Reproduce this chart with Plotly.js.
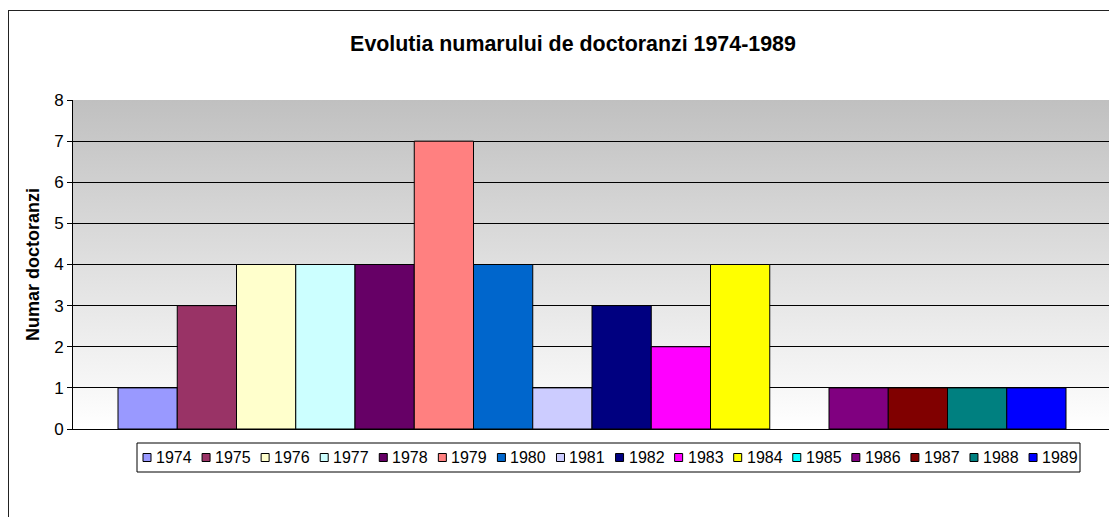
<!DOCTYPE html>
<html>
<head>
<meta charset="utf-8">
<script src="https://cdn.plot.ly/plotly-3.0.1.min.js"></script>
<style>
  html, body { margin:0; padding:0; background:#fff; overflow:hidden; width:1109px; height:517px; }
  #frame { position:absolute; left:8px; top:10px; width:1300px; height:700px; border:1px solid #222; box-sizing:border-box; }
  #grad { position:absolute; left:73px; top:100px; width:1038px; height:329px; background:linear-gradient(to bottom, #c0c0c0 0%, #ffffff 100%); }
  #chart { position:absolute; left:0; top:0; width:1120px; height:517px; }
</style>
</head>
<body>
<div id="frame"></div>
<div id="grad"></div>
<div id="chart"></div>
<script>
const years = ['1974','1975','1976','1977','1978','1979','1980','1981','1982','1983','1984','1985','1986','1987','1988','1989'];
const values = [1, 3, 4, 4, 4, 7, 4, 1, 3, 2, 4, 0, 1, 1, 1, 1];
const colors = ['#9999FF','#993366','#FFFFCC','#CCFFFF','#660066','#FF8080','#0066CC','#CCCCFF','#000080','#FF00FF','#FFFF00','#00FFFF','#800080','#800000','#008080','#0000FF'];
const category = ['Doctoranzi'];
const yTicks = [0,1,2,3,4,5,6,7,8];

const W = 1120, H = 517;
const M = { l: 73, r: 9, t: 100, b: 88 };
const PW = W - M.l - M.r, PH = H - M.t - M.b;
const px = v => (v - M.l) / PW;          // pixel x -> paper x
const py = v => (H - M.b - v) / PH;      // pixel y -> paper y

const traces = years.map((yr, i) => ({
  type: 'bar',
  name: yr,
  x: category,
  y: [values[i]],
  marker: { color: colors[i], line: { color: '#000', width: values[i] > 0 ? 1 : 0 } },
  hoverinfo: 'name+y'
}));

// custom Excel-style legend (box, swatches, labels)
const legLeft = 137, legRight = 1080, legTop = 443, legBottom = 472;
const itemStart = 143, pitch = 59.07, sw = 8, midY = 457.5;
const shapes = [{
  type: 'rect', xref: 'paper', yref: 'paper',
  x0: px(legLeft), x1: px(legRight), y0: py(legBottom), y1: py(legTop),
  line: { color: '#000', width: 1 }, fillcolor: '#fff', layer: 'above'
}];
const annotations = [];
years.forEach((yr, i) => {
  const sx = itemStart + i * pitch;
  shapes.push({
    type: 'rect', xref: 'paper', yref: 'paper',
    x0: px(sx), x1: px(sx + sw), y0: py(midY + sw / 2), y1: py(midY - sw / 2),
    line: { color: '#000', width: 1 }, fillcolor: colors[i], layer: 'above'
  });
  annotations.push({
    xref: 'paper', yref: 'paper', x: px(sx + 12), y: py(midY),
    xanchor: 'left', yanchor: 'middle', text: yr, showarrow: false,
    font: { size: 16, color: '#000' }, borderpad: 0
  });
});

const layout = {
  width: W, height: H,
  margin: M,
  paper_bgcolor: 'rgba(0,0,0,0)',
  plot_bgcolor: 'rgba(0,0,0,0)',
  font: { family: 'Liberation Sans, Arial, sans-serif', size: 16, color: '#000' },
  title: { text: '<b>Evolutia numarului de doctoranzi 1974-1989</b>', font: { size: 21.4, family: 'Liberation Sans, Arial, sans-serif' }, x: 573 / W, xref: 'container', xanchor: 'center', y: 1 - 44 / H, yref: 'container', yanchor: 'middle' },
  barmode: 'group',
  bargap: 0.0867,
  bargroupgap: 0,
  showlegend: false,
  shapes: shapes,
  annotations: annotations,
  xaxis: { type: 'category', showticklabels: false, ticks: '', showline: true, linecolor: '#000', linewidth: 1, showgrid: false, zeroline: false, fixedrange: true },
  yaxis: {
    range: [0, 8], tickvals: yTicks, ticks: 'outside', ticklen: 5, tickcolor: '#000', showline: true, linecolor: '#000', linewidth: 1,
    showgrid: true, gridcolor: '#000', gridwidth: 1, zeroline: false, fixedrange: true,
    tickfont: { size: 17 },
    title: { text: '<b>Numar doctoranzi</b>', font: { size: 18 }, standoff: 9 },
    automargin: false
  }
};

Plotly.newPlot('chart', traces, layout, { displayModeBar: false, staticPlot: true });
</script>
</body>
</html>
